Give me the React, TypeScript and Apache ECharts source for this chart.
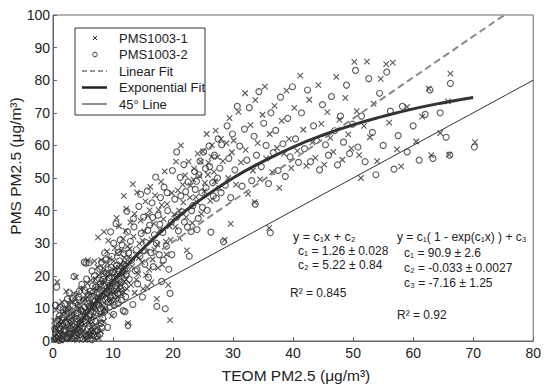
import React, { useEffect, useRef } from "react";
import * as echarts from "echarts";

const xTicks = [0, 10, 20, 30, 40, 50, 60, 70, 80];
const yTicks = [0, 10, 20, 30, 40, 50, 60, 70, 80, 90, 100];

const pms1: number[][] = [
  [0.3,1.2],[0.5,3.5],[0.8,0.6],[1.0,5.8],[1.2,2.1],[1.4,8.2],[1.6,0.9],[1.8,4.4],[2.0,6.9],[2.1,1.7],[2.3,10.1],[2.5,3.2],[2.7,5.5],[2.9,0.8],[3.0,12.3],[3.2,7.4],[3.4,2.6],[3.6,9.1],[3.8,4.9],[4.0,14.2],[4.1,1.5],[4.3,6.3],[4.5,11.0],[4.7,3.8],[4.9,8.7],[5.1,16.1],[5.2,5.1],[5.4,12.8],[5.6,2.4],[5.8,9.9],[6.0,14.9],[6.2,7.2],[6.3,18.6],[6.5,4.3],[6.7,11.7],[6.9,24.5],[7.0,16.2],[7.2,8.8],[7.4,13.4],[7.6,20.3],[7.8,5.6],[8.0,15.8],[8.2,11.1],[8.4,22.4],[8.6,17.9],[8.8,9.4],[9.0,13.8],[9.2,19.6],[9.4,25.3],[9.6,15.1],[9.8,7.7],[10.0,17.4],[10.2,21.8],[10.4,12.6],[10.6,37.8],[10.7,26.9],[10.9,16.6],[11.1,19.9],[11.3,23.5],[11.5,14.2],[11.7,31.4],[11.9,18.3],[12.1,33.8],[12.3,21.1],[12.5,5.5],[12.6,25.7],
  [0.7,18.1],[3.8,19.6],[5.8,24.8],[2.2,15.2],[1.5,12.0],[0.2,6.2],
  [0.1,0.3],[0.4,4.6],[0.6,2.0],[0.9,7.1],[1.1,3.0],[1.3,0.2],[1.7,6.1],[1.9,2.5],[2.2,8.7],[2.4,4.4],[2.6,11.2],[2.8,2.0],[3.1,5.9],[3.3,8.9],[3.5,0.5],[3.7,12.7],[3.9,6.7],[4.2,3.0],[4.4,9.6],[4.6,15.9],[4.8,5.9],[5.0,12.1],[5.3,1.2],[5.5,8.0],[5.7,17.7],[5.9,6.1],[6.1,11.0],[6.4,2.8],[6.6,14.3],[6.8,9.8],[7.1,19.0],[7.3,4.0],[7.5,12.4],[7.7,16.9],[7.9,8.0],[8.1,21.0],[8.3,13.2],[8.5,18.6],[8.7,10.0],[8.9,15.5],[9.1,23.8],[9.3,12.0],[9.5,17.3],[9.7,20.5],[9.9,11.6],[10.1,24.5],[10.3,15.3],[10.5,19.2],[10.8,13.5],[11.0,22.5],[11.2,17.6],[11.4,27.8],[11.6,20.7],[11.8,15.0],[12.0,24.0],[12.2,18.8],[12.4,29.0],
  [0.5,9.5],[1.0,11.0],[1.3,5.0],[1.9,9.0],[2.4,7.0],[2.9,9.8],[3.2,4.0],[3.5,14.5],[4.0,10.8],[4.5,6.5],[4.9,13.0],[5.3,9.0],[5.7,13.5],[6.0,5.5],[6.3,12.0],[6.7,7.5],[7.0,10.5],[7.3,15.5],[7.7,11.8],[8.0,18.0],[8.3,9.0],[8.7,14.2],[9.0,21.0],[9.3,16.5],[9.7,12.8],[10.0,14.8],[10.4,22.5],[10.7,18.0],[11.1,15.6],[11.5,20.0],[11.9,25.5],[12.3,16.0],[3.0,1.2],[4.0,0.3],[2.0,0.4],[6.0,2.0],[5.0,3.0],[7.0,5.0],[8.0,3.0],[8.5,6.0],
  [5.5,0.5],[6.2,1.3],[6.9,0.8],[7.2,2.5],[7.6,1.0],[6.6,3.5],
  [12.8,28.3],[13.0,17.2],[13.2,22.9],[13.4,32.0],[13.6,14.8],[13.8,26.4],[14.0,45.6],[14.2,20.5],[14.4,29.9],[14.6,36.9],[14.8,24.2],[15.0,16.0],[15.2,33.6],[15.4,42.8],[15.6,27.5],[15.8,38.5],[16.0,21.9],[16.2,47.3],[16.4,31.2],[16.6,25.0],[16.8,36.0],[17.0,44.7],[17.3,12.9],[17.4,29.6],[17.6,40.2],[17.8,34.1],[18.0,48.9],[18.2,23.4],[18.4,37.4],[18.6,52.0],[18.8,30.5],[19.0,42.0],[19.2,17.2],[19.4,35.2],[19.5,6.4],[19.8,45.4],
  [8.5,33.5],[9.2,30.8],[7.5,31.8],[12.2,40.5],[11.8,44.5],[13.3,48.1],[15.7,16.5],
  [10.3,28.5],[11.0,35.2],[12.9,36.4],[13.6,39.0],[14.3,25.5],[14.9,30.8],[15.5,20.2],[16.1,40.1],[16.9,28.0],[17.5,22.4],[18.1,41.7],[18.9,26.6],[19.6,31.0],[20.4,35.0],[21.0,40.0],[21.6,48.0],[22.2,38.0],[22.8,44.0],[23.4,49.5],[24.0,42.5],[24.6,55.0],[25.2,46.0],[25.8,51.0],[26.4,56.5],[27.0,49.0],[9.0,27.5],[8.0,24.8],[7.4,22.7],[13.9,18.8],[16.4,18.0],
  [20.2,38.8],[20.5,55.0],[20.8,46.2],[21.1,31.5],[21.3,60.0],[21.7,42.5],[22.0,50.8],[22.3,27.8],[22.6,55.0],[22.9,47.7],[23.2,36.2],[23.5,52.9],[23.8,44.1],[24.1,57.5],[24.4,50.6],[24.7,39.0],[25.0,58.2],[25.3,48.5],[25.6,63.5],[25.9,54.7],[26.2,43.0],[26.5,60.1],[26.8,51.9],[27.1,64.5],[27.4,56.4],[27.7,46.9],[28.0,62.0],[28.3,55.2],[28.6,31.0],[28.9,60.7],[29.2,50.0],[29.4,68.4],[29.6,35.9],[29.8,57.9],
  [30.1,61.5],[30.5,48.0],[30.9,70.3],[31.3,54.8],[32.0,76.0],[32.1,58.6],[32.5,45.1],[32.9,66.2],[33.3,52.3],[33.6,42.6],[33.7,73.9],[34.1,60.7],[34.5,49.6],[34.9,69.4],[35.3,78.0],[35.5,56.0],[36.0,34.7],[36.1,63.5],[36.5,51.8],[36.9,72.1],[37.3,59.2],[37.7,47.0],[38.1,67.5],[38.5,57.5],[38.9,76.8],[39.3,62.0],[39.7,53.0],
  [40.2,71.5],[40.7,58.3],[41.2,81.4],[41.7,64.8],[42.2,53.7],[42.7,74.0],[43.2,60.9],[43.7,56.2],[44.2,78.5],[44.7,66.6],[45.2,54.1],[45.7,70.2],[46.2,62.3],[46.7,58.0],[47.2,81.0],[47.7,67.8],[48.2,55.6],[48.7,74.6],[49.2,63.4],[49.7,59.1],
  [50.2,85.6],[50.6,70.5],[51.0,57.0],[51.3,50.0],[51.8,66.0],[52.3,85.7],[52.8,62.5],[53.4,72.8],[54.0,55.2],[54.6,80.4],[55.5,84.9],[56.0,67.0],[56.6,85.4],[57.3,58.8],[58.0,53.6],[59.0,71.8],[60.5,61.2],[61.5,68.8],[62.6,77.4],[63.0,57.0],[64.5,63.8],[65.8,73.5],[66.2,82.0],[66.0,57.2],[70.3,61.0]
];

const pms2: number[][] = [
  [0.2,0.5],[0.4,2.8],[0.6,16.5],[0.7,5.2],[0.9,1.4],[1.1,7.8],[1.3,3.6],[1.5,0.4],[1.7,9.6],[1.9,2.9],[2.1,5.8],[2.4,12.9],[2.6,1.1],[2.8,7.3],[3.0,3.9],[3.3,10.8],[3.5,19.8],[3.6,5.0],[3.9,1.7],[4.1,8.6],[4.3,13.5],[4.6,3.1],[4.8,17.4],[5.0,6.8],[5.3,10.4],[5.5,23.9],[5.7,0.6],[5.9,14.1],[6.1,4.6],[6.3,9.2],[6.5,21.5],[6.6,16.9],[6.8,1.9],[7.0,12.2],[7.1,6.0],[7.3,18.8],[7.5,3.3],[7.7,14.5],[7.9,10.0],[8.1,24.2],[8.3,7.0],[8.5,16.8],[8.7,12.9],[8.9,20.8],[9.1,4.2],[9.3,15.6],[9.5,10.5],[9.7,22.6],[9.9,18.0],[10.1,8.2],[10.3,14.0],[10.5,36.0],[10.7,20.4],[10.9,11.5],[11.1,24.6],[11.3,16.0],[11.5,29.5],[11.7,9.3],[11.9,22.0],[12.1,13.6],[12.3,39.8],[12.5,4.8],
  [6.0,24.0],[5.2,24.2],
  [0.3,3.8],[0.5,0.9],[0.8,6.5],[1.0,2.3],[1.2,10.3],[1.4,4.8],[1.6,1.6],[1.8,7.0],[2.0,3.4],[2.2,9.3],[2.5,5.0],[2.7,14.8],[2.9,2.2],[3.1,8.0],[3.4,4.5],[3.7,11.8],[4.0,6.9],[4.2,2.4],[4.4,15.3],[4.7,9.5],[4.9,4.0],[5.1,12.5],[5.4,7.6],[5.6,19.0],[5.8,3.8],[6.0,10.6],[6.2,15.2],[6.4,6.4],[6.7,12.6],[6.9,20.0],[7.2,8.6],[7.4,15.0],[7.6,11.0],[7.8,22.0],[8.0,5.4],[8.2,14.0],[8.4,18.9],[8.6,9.0],[8.8,24.9],[9.0,16.2],[9.2,11.9],[9.4,19.4],[9.6,13.4],[9.8,26.0],[10.0,21.1],[10.2,10.9],[10.4,17.0],[10.6,23.2],[10.8,14.6],[11.0,19.0],[11.2,31.0],[11.4,12.5],[11.6,21.4],[11.8,26.8],[12.0,16.7],[12.2,23.0],[12.4,33.5],
  [0.4,11.0],[0.9,4.0],[1.5,6.5],[2.0,11.5],[2.3,1.0],[2.6,8.5],[3.0,6.0],[3.3,13.0],[3.8,8.5],[4.2,11.0],[4.6,5.5],[5.0,9.0],[5.3,15.5],[5.7,11.5],[6.1,8.0],[6.5,13.8],[6.8,10.5],[7.1,16.5],[7.5,13.0],[7.9,17.5],[8.2,11.0],[8.5,20.0],[8.9,15.0],[9.2,22.0],[9.5,17.0],[9.9,14.0],[10.2,19.5],[10.6,16.0],[11.0,21.5],[11.4,18.0],[11.8,23.5],[12.2,20.5],[1.0,0.2],[3.2,0.8],[4.6,2.0],[5.5,1.5],[6.3,3.0],[7.8,2.0],[8.2,4.0],[3.5,2.5],
  [5.0,0.6],[6.0,1.8],[6.5,0.4],[7.0,3.0],[7.4,1.5],[4.5,1.0],
  [12.7,19.0],[12.9,30.6],[13.1,24.8],[13.3,11.2],[13.5,35.0],[13.7,21.6],[13.9,28.0],[14.1,17.5],[14.3,41.3],[14.5,26.1],[14.7,33.0],[14.9,13.5],[15.1,38.0],[15.3,23.6],[15.5,30.2],[15.7,46.0],[15.9,19.5],[16.1,35.5],[16.3,27.1],[16.5,42.4],[16.7,22.8],[16.9,32.6],[17.1,50.3],[17.3,10.6],[17.5,38.6],[17.7,26.5],[17.9,44.0],[18.1,18.3],[18.3,33.3],[18.5,47.2],[18.7,9.9],[18.9,29.1],[19.1,40.0],[19.3,22.0],[19.5,14.6],[19.7,36.5],[19.9,52.3],
  [10.1,30.0],[10.9,27.2],[12.6,27.0],[13.4,37.5],[14.0,22.0],[14.6,45.0],[15.2,27.8],[15.8,34.0],[16.6,37.9],[17.2,30.0],[17.8,35.8],[18.4,24.8],[19.0,45.5],[19.8,26.5],[20.6,38.0],[21.3,44.5],[21.9,36.5],[22.5,48.8],[23.1,40.0],[23.7,46.5],[24.3,51.0],[24.9,41.0],[25.5,47.0],[26.1,53.5],[26.7,44.5],[27.4,50.0],[28.0,45.5],[8.6,27.0],[9.6,33.5],[12.0,9.0],
  [20.3,43.5],[20.6,58.0],[20.9,33.8],[21.2,50.2],[21.5,39.6],[21.8,54.1],[22.1,45.8],[22.4,35.0],[22.7,26.0],[23.0,33.6],[23.3,41.5],[23.6,52.0],[23.9,49.0],[24.0,34.2],[24.2,37.6],[24.5,55.2],[24.8,45.5],[25.1,58.0],[25.4,52.9],[25.7,40.1],[26.0,59.8],[26.3,33.4],[26.6,48.6],[26.9,57.0],[27.2,43.8],[27.5,62.0],[27.8,53.0],[28.1,60.2],[28.4,30.5],[28.7,47.8],[29.0,66.0],[29.3,56.0],[29.6,44.0],[29.9,63.5],
  [30.3,52.5],[30.7,72.0],[31.1,59.8],[31.5,47.5],[31.9,65.0],[32.3,55.5],[32.7,71.6],[33.1,49.2],[33.5,62.8],[33.7,42.0],[33.9,57.0],[34.3,76.5],[34.7,53.5],[35.1,66.8],[35.5,60.0],[35.9,48.3],[36.2,33.2],[36.3,70.0],[36.7,57.8],[37.1,64.6],[37.5,52.3],[37.9,74.8],[38.3,60.5],[38.7,50.5],[39.1,68.3],[39.5,56.5],[39.9,78.0],
  [40.4,62.0],[40.9,54.8],[41.4,70.0],[41.9,59.0],[42.4,77.0],[42.9,55.0],[43.4,66.0],[43.9,61.5],[44.4,52.5],[44.9,72.5],[45.4,60.2],[45.9,57.0],[46.4,75.0],[46.9,64.5],[47.4,54.0],[47.9,69.0],[48.4,61.0],[48.9,78.5],[49.4,57.5],[49.9,66.5],
  [50.4,83.0],[50.8,59.5],[51.4,69.0],[52.0,55.0],[52.6,80.5],[53.2,64.0],[53.8,51.0],[54.4,76.0],[55.0,60.0],[55.6,82.5],[56.2,70.5],[56.8,52.7],[57.5,63.0],[58.2,72.0],[59.0,58.0],[60.0,66.0],[61.0,55.5],[62.0,69.5],[62.8,77.0],[63.3,56.0],[64.5,70.0],[65.5,62.5],[66.2,79.0],[66.1,57.0],[70.2,59.5]
];

const linearFit: number[][] = [[0, 5.22], [75.2, 100]];
const expFit: number[][] = [
  [2.5, 0], [5, 6.7], [10, 18.4], [15, 28.3], [20, 36.8], [25, 43.9], [30, 50.0],
  [35, 55.1], [40, 59.5], [45, 63.2], [50, 66.3], [55, 68.9], [60, 71.2], [65, 73.1], [70, 74.7]
];
const line45: number[][] = [[0, 0], [80, 80]];

const legendNames = ["PMS1003-1", "PMS1003-2", "Linear Fit", "Exponential Fit", "45\u00b0 Line"];
const linearText = ["y = c\u2081x + c\u2082", "c\u2081 = 1.26 \u00b1 0.028", "c\u2082 = 5.22 \u00b1 0.84", "R\u00b2 = 0.845"];
const expText = [
  "y = c\u2081( 1 - exp(c\u2081x) ) + c\u2083",
  "c\u2081 = 90.9 \u00b1 2.6",
  "c\u2082 = -0.033 \u00b1 0.0027",
  "c\u2083 = -7.16 \u00b1 1.25",
  "R\u00b2 = 0.92",
];

const PT = "#2f2f2f";
const FONT = "Liberation Sans, Arial, sans-serif";
const XPATH = "path://M0,0L10,10M10,0L0,10";

export default function App() {
  const ref = useRef<HTMLDivElement>(null);
  useEffect(() => {
    if (!ref.current) return;
    const chart = echarts.init(ref.current, null, { renderer: "svg" });
    const txt = (text: string, x: number, y: number, size = 12, extra: any = {}) => ({
      type: "text",
      x,
      y,
      z: 100,
      style: { text, font: `${size}px ${FONT}`, fill: "#222", textVerticalAlign: "middle", ...extra },
    });
    const legendY = [38, 54.5, 71, 87.5, 104];
    const graphic: any[] = [
      { type: "rect", z: 90, shape: { x: 75, y: 28, width: 130, height: 87 }, style: { fill: "#fff", stroke: "#333", lineWidth: 1 } },
      { type: "line", z: 100, shape: { x1: 93, y1: 36, x2: 97, y2: 40 }, style: { stroke: "#333", lineWidth: 1 } },
      { type: "line", z: 100, shape: { x1: 97, y1: 36, x2: 93, y2: 40 }, style: { stroke: "#333", lineWidth: 1 } },
      { type: "circle", z: 100, shape: { cx: 95, cy: legendY[1], r: 2.3 }, style: { fill: "none", stroke: "#333", lineWidth: 1 } },
      { type: "line", z: 100, shape: { x1: 82, y1: legendY[2], x2: 107, y2: legendY[2] }, style: { stroke: "#777", lineWidth: 1.5, lineDash: [5, 3] } },
      { type: "line", z: 100, shape: { x1: 82, y1: legendY[3], x2: 107, y2: legendY[3] }, style: { stroke: "#222", lineWidth: 2.5 } },
      { type: "line", z: 100, shape: { x1: 82, y1: legendY[4], x2: 107, y2: legendY[4] }, style: { stroke: "#222", lineWidth: 1 } },
      ...legendNames.map((n, i) => txt(n, 119, legendY[i], 13)),
      txt(linearText[0], 293, 237, 12.5),
      txt(linearText[1], 298, 251, 12),
      txt(linearText[2], 298, 265, 12),
      txt(linearText[3], 290, 293, 12),
      txt(expText[0], 397, 237, 12),
      txt(expText[1], 404, 253, 12),
      txt(expText[2], 404, 268, 12),
      txt(expText[3], 404, 283, 12),
      txt(expText[4], 397, 315, 12),
      txt("TEOM PM2.5 (\u03bcg/m\u00b3)", 296, 375, 15.5, { textAlign: "center" }),
      {
        type: "text",
        x: 15,
        y: 166,
        rotation: Math.PI / 2,
        z: 100,
        style: { text: "PMS PM2.5 (\u03bcg/m\u00b3)", font: `15.5px ${FONT}`, fill: "#222", textAlign: "center", textVerticalAlign: "middle" },
      },
    ];
    const option: any = {
      animation: false,
      grid: { left: 53, right: 7, top: 15, bottom: 46, show: true, borderColor: "#666", borderWidth: 1 },
      xAxis: {
        type: "value",
        min: xTicks[0],
        max: xTicks[xTicks.length - 1],
        interval: 10,
        splitLine: { show: false },
        axisLine: { lineStyle: { color: "#666" } },
        axisTick: { inside: true, length: 4, lineStyle: { color: "#666" } },
        axisLabel: { color: "#222", fontSize: 14, fontFamily: FONT, margin: 5 },
      },
      yAxis: {
        type: "value",
        min: yTicks[0],
        max: yTicks[yTicks.length - 1],
        interval: 10,
        splitLine: { show: false },
        axisLine: { show: true, lineStyle: { color: "#666" } },
        axisTick: { show: true, inside: true, length: 4, lineStyle: { color: "#666" } },
        axisLabel: { color: "#222", fontSize: 14, fontFamily: FONT, margin: 3 },
      },
      series: [
        {
          name: legendNames[0],
          type: "scatter",
          data: pms1,
          symbol: XPATH,
          symbolSize: 5.5,
          itemStyle: { color: "none", borderColor: PT, borderWidth: 1.1 },
        },
        {
          name: legendNames[1],
          type: "scatter",
          data: pms2,
          symbol: "circle",
          symbolSize: 6,
          itemStyle: { color: "none", borderColor: PT, borderWidth: 1.1 },
        },
        {
          name: legendNames[2],
          type: "line",
          data: linearFit,
          showSymbol: false,
          lineStyle: { color: "#888", width: 2, type: [7, 4] },
        },
        {
          name: legendNames[3],
          type: "line",
          data: expFit,
          smooth: true,
          showSymbol: false,
          lineStyle: { color: "#333", width: 3 },
        },
        {
          name: legendNames[4],
          type: "line",
          data: line45,
          showSymbol: false,
          lineStyle: { color: "#333", width: 1 },
        },
      ],
      graphic,
    };
    chart.setOption(option);
    return () => chart.dispose();
  }, []);
  return <div ref={ref} style={{ width: 544, height: 387, position: "absolute", left: 0, top: 0 }} />;
}
